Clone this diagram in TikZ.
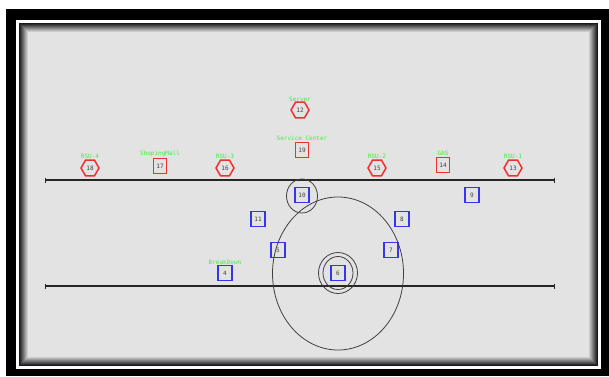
\documentclass[tikz,border=0pt]{standalone}
\usepackage{fontspec}
\newfontfamily\labfont{DejaVu Sans Mono}
\usetikzlibrary{shapes.geometric,arrows.meta}
\definecolor{bg}{HTML}{E3E3E3}
\definecolor{rsq}{HTML}{EE3030}
\definecolor{bsq}{HTML}{3535EE}
\definecolor{lgreen}{HTML}{40EE40}
\tikzset{
  numfont/.style={font=\labfont\fontsize{6}{6}\selectfont, text=black!75},
  redbox/.style={draw=rsq, line width=1.5pt, minimum width=13pt, minimum height=15pt, inner sep=0pt, numfont},
  bluebox/.style={draw=bsq, line width=1.5pt, minimum width=14pt, minimum height=15pt, inner sep=0pt, numfont},
  hexnode/.style={regular polygon, regular polygon sides=6, draw=rsq, line width=1.5pt, minimum size=18pt, inner sep=0pt, numfont},
  lab/.style={text=lgreen, font=\labfont\fontsize{6}{6}\selectfont, inner sep=0pt},
  road/.style={line width=2.4pt, draw=black!85, {Bar[width=5pt,line width=0.8pt]}-{Bar[width=5pt,line width=0.8pt]}},
  ring/.style={draw=black!75, line width=0.8pt},
}
\begin{document}
\begin{tikzpicture}[x=1pt,y=-1pt]
\useasboundingbox (0,0) rectangle (609,376);
% frame
\fill[white] (0,0) rectangle (609,376);
\fill[black] (6,9) rectangle (609,376);
\fill[white] (16,20) rectangle (601,369);
\fill[black!90] (19,23) rectangle (598,366);
\foreach \i [evaluate=\i as \p using 20+10*\i] in {0,...,8}
  \fill[bg!\p!black] (20+\i,24+\i) rectangle (597-\i,365-\i);
% roads
\coordinate (r1a) at (45,180);
\coordinate (r1b) at (555,180);
\coordinate (r2a) at (45,286);
\coordinate (r2b) at (555,286);
\draw[road] (r1a) -- (r1b);
\draw[road] (r2a) -- (r2b);
% red infrastructure
\node[hexnode] (n18) at (90,168) {18};
\node[redbox]  (n17) at (160,166) {17};
\node[hexnode] (n16) at (225,168) {16};
\node[hexnode] (n12) at (300,110) {12};
\node[redbox]  (n19) at (302,150) {19};
\node[hexnode] (n15) at (377,168) {15};
\node[redbox]  (n14) at (443,165) {14};
\node[hexnode] (n13) at (513,168) {13};
\node[lab] (l18) at (90,156) {RSU-4};
\node[lab] (l17) at (160,154) {ShopingMall};
\node[lab] (l16) at (225,156) {RSU-3};
\node[lab] (l12) at (300,99) {Server};
\node[lab] (l19) at (302,138) {Service Center};
\node[lab] (l15) at (377,156) {RSU-2};
\node[lab] (l14) at (443,153) {GAS};
\node[lab] (l13) at (513,156) {RSU-1};
% vehicles
\node[bluebox] (n10) at (302,195) {10};
\node[bluebox] (n9)  at (472,195) {9};
\node[bluebox] (n11) at (258,219) {11};
\node[bluebox] (n8)  at (402,219) {8};
\node[bluebox] (n5)  at (278,250) {5};
\node[bluebox] (n7)  at (391,250) {7};
\node[bluebox] (n4)  at (225,273) {4};
\node[bluebox] (n6)  at (338,273) {6};
\node[lab] (l4) at (225,262) {BreakDown};
% ranges
\draw[ring] (302,196) ellipse [x radius=15.5pt, y radius=17pt];
\draw[ring] (n6.center) ellipse [x radius=15pt, y radius=16.5pt];
\draw[ring] (n6.center) ellipse [x radius=19.5pt, y radius=20.5pt];
\draw[ring] (338,273.5) ellipse [x radius=65.5pt, y radius=76.5pt];
\end{tikzpicture}
\end{document}
